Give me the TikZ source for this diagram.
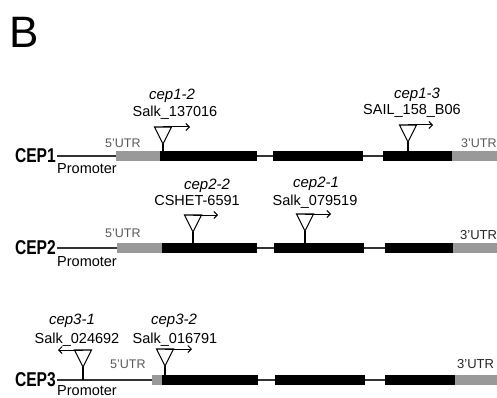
\documentclass[tikz,border=0pt]{standalone}
\usepackage{fontspec}
\setmainfont{Liberation Sans}
\newfontfamily\genefont[FakeStretch=0.78]{Liberation Sans}
\usetikzlibrary{arrows.meta,shapes.geometric}
\tikzset{
  gnName/.style={font=\genefont\fontsize{20}{22}\selectfont\bfseries, anchor=east, inner sep=1pt},
  utrBox/.style={fill=black!40, minimum height=10pt, inner sep=0pt, outer sep=0pt, anchor=west},
  exBox/.style={fill=black, minimum height=10pt, inner sep=0pt, outer sep=0pt, anchor=west},
  intron/.style={draw=black!80, line width=1.2pt},
  utrLbl/.style={font=\fontsize{12.5}{14}\selectfont, text=black!65, anchor=base west, inner sep=0pt},
  promLbl/.style={font=\fontsize{14.5}{16}\selectfont, anchor=north west, inner sep=0pt},
  %% T-DNA insertion (open triangle)
  tdna/.style={draw, line width=1.1pt, fill=white, isosceles triangle,
    isosceles triangle stretches, shape border rotate=270,
    minimum width=17pt, minimum height=17pt, inner sep=0pt, outer sep=0pt, anchor=apex},
  stem/.style={line width=1.1pt},
  tdnaarr/.style={line width=1pt, -{Straight Barb[length=3.5pt,width=7pt]}},
  allele/.style={font=\fontsize{15}{17}\selectfont\itshape, anchor=base, inner sep=0pt},
  lineID/.style={font=\fontsize{14.5}{16}\selectfont, anchor=base, inner sep=0pt},
}
\begin{document}
\begin{tikzpicture}[x=1pt, y=-1pt]
\useasboundingbox (0,0) rectangle (497,398);

\node[anchor=base west, inner sep=0pt, font=\fontsize{44}{48}\selectfont] (panel) at (9,48) {B};

%% CEP1
\node[gnName] (cep1) at (57,156) {CEP1};
\node[utrBox, minimum width=44pt] (u51) at (116,156) {};
\node[exBox, minimum width=97pt] (ex1a) at (160,156) {};
\node[exBox, minimum width=90pt] (ex1b) at (273,156) {};
\node[exBox, minimum width=69pt] (ex1c) at (383,156) {};
\node[utrBox, minimum width=47pt] (u31) at (452,156) {};
\node[promLbl] (pr1) at (57,163) {Promoter};
\node[utrLbl] (lu51) at (105,147) {5’UTR};
\node[utrLbl] (lu31) at (461,148) {3’UTR};

%% CEP2
\node[gnName] (cep2) at (57,248) {CEP2};
\node[utrBox, minimum width=45pt] (u52) at (117,248) {};
\node[exBox, minimum width=95pt] (ex2a) at (162,248) {};
\node[exBox, minimum width=90pt] (ex2b) at (274,248) {};
\node[exBox, minimum width=68pt] (ex2c) at (385,248) {};
\node[utrBox, minimum width=46pt] (u32) at (453,248) {};
\node[promLbl] (pr2) at (57,256) {Promoter};
\node[utrLbl] (lu52) at (105,237) {5’UTR};
\node[utrLbl, text=black!85, font=\fontsize{13}{15}\selectfont] (lu32) at (460,239) {3’UTR};

%% CEP3
\node[gnName] (cep3) at (57,380) {CEP3};
\node[utrBox, minimum width=10pt] (u53) at (152,380) {};
\node[exBox, minimum width=96pt] (ex3a) at (162,380) {};
\node[exBox, minimum width=90pt] (ex3b) at (275,380) {};
\node[exBox, minimum width=70pt] (ex3c) at (385,380) {};
\node[utrBox, minimum width=44pt] (u33) at (455,380) {};
\node[promLbl] (pr3) at (57,385.5) {Promoter};
\node[utrLbl] (lu53) at (110,368) {5’UTR};
\node[utrLbl, text=black!85, font=\fontsize{13}{15}\selectfont] (lu33) at (457,368) {3’UTR};

\foreach \r in {1,2,3} {
  \draw[intron] (cep\r.east) -- (u5\r.west);
  \draw[intron] (ex\r a) -- (ex\r b);
  \draw[intron] (ex\r b) -- (ex\r c);
}

%% insertions
\node[tdna] (t12) at (163,144) {};
\node[tdna] (t13) at (408,142) {};
\node[tdna] (t22) at (193,232) {};
\node[tdna] (t21) at (305,231) {};
\node[tdna] (t31) at (83,367) {};
\node[tdna] (t32) at (165,366) {};

\draw[stem] (t12.apex) -- (t12.apex |- ex1a.north);
\draw[stem] (t13.apex) -- (t13.apex |- ex1c.north);
\draw[stem] (t22.apex) -- (t22.apex |- ex2a.north);
\draw[stem] (t21.apex) -- (t21.apex |- ex2b.north);
\draw[stem] (t31.apex) -- (t31.apex |- u53.west);
\draw[stem] (t32.apex) -- (t32.apex |- ex3a.north);

\coordinate (a12) at (190,0);
\coordinate (a13) at (433,0);
\coordinate (a22) at (218,0);
\coordinate (a21) at (331,0);
\coordinate (a31) at (58,0);
\coordinate (a32) at (192,0);
\draw[tdnaarr] (t12.north) -- (t12.north -| a12);
\draw[tdnaarr] (t13.north) -- (t13.north -| a13);
\draw[tdnaarr] (t22.north) -- (t22.north -| a22);
\draw[tdnaarr] (t21.north) -- (t21.north -| a21);
\draw[tdnaarr] (t31.north) -- (t31.north -| a31);
\draw[tdnaarr] (t32.north) -- (t32.north -| a32);

\node[allele] (al12) at (172,100) {cep1-2};
\node[lineID] (id12) at (175,117) {Salk\_137016};
\node[allele] (al13) at (417,99) {cep1-3};
\node[lineID] (id13) at (412,115) {SAIL\_158\_B06};
\node[allele] (al22) at (207,189) {cep2-2};
\node[lineID] (id22) at (197,205) {CSHET-6591};
\node[allele] (al21) at (316,187) {cep2-1};
\node[lineID] (id21) at (315,205) {Salk\_079519};
\node[allele] (al31) at (72,324) {cep3-1};
\node[lineID] (id31) at (77,343) {Salk\_024692};
\node[allele] (al32) at (174,324) {cep3-2};
\node[lineID] (id32) at (175,343) {Salk\_016791};

\end{tikzpicture}
\end{document}
